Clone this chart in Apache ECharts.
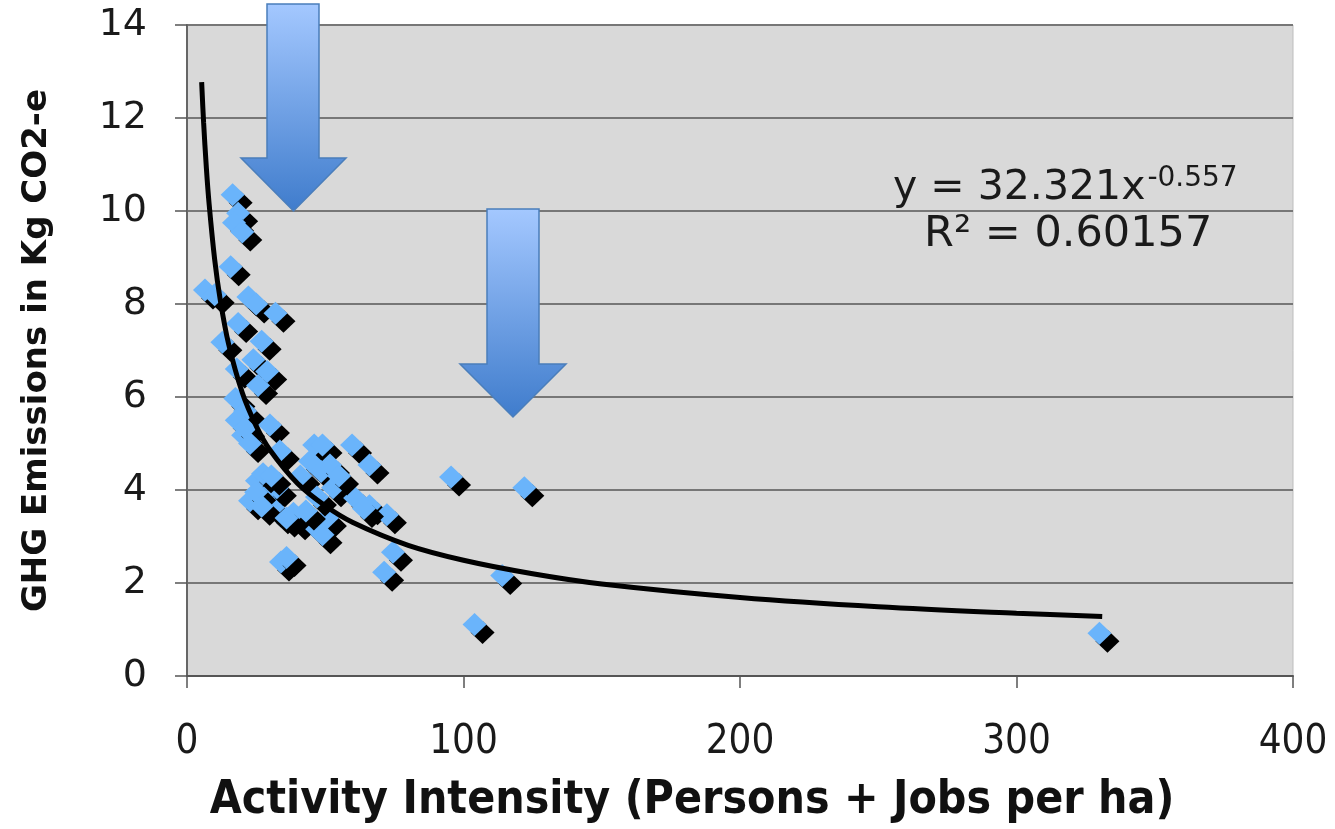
<!DOCTYPE html>
<html>
<head>
<meta charset="utf-8">
<script src="https://cdn.jsdelivr.net/npm/echarts@6/dist/echarts.min.js"></script>
<style>
html,body{margin:0;padding:0;background:#fff;}
#chart{width:1335px;height:829px;}
</style>
</head>
<body>
<div id="chart"></div>
<script>
// Observed points (Activity Intensity, GHG emissions)
var pointX = [16.5,18.5,17.0,20.0,15.8,6.5,10.0,22.2,25.0,32.0,18.5,12.8,27.0,24.0,29.0,18.0,25.7,17.5,21.0,18.0,30.0,20.3,21.0,22.8,33.6,46.0,44.5,48.5,25.3,22.8,29.0,32.5,33.6,39.8,31.0,45.5,34.0,36.0,59.7,66.0,49.0,51.7,52.8,60.8,66.0,72.3,50.6,49.0,74.5,71.3,95.5,122.0,114.0,104.0,330.0,27.5,38.5,41.0,55.0,47.0,64.0,25.0,27.0,30.5,36.0,43.0];
var pointY = [10.35,9.95,9.75,9.55,8.8,8.3,8.2,8.15,8.0,7.8,7.58,7.18,7.2,6.8,6.55,6.6,6.25,5.97,5.7,5.5,5.4,5.18,5.33,5.0,4.84,4.97,4.62,4.4,4.2,3.77,3.9,4.05,3.47,3.34,3.62,3.25,2.45,2.55,4.97,4.54,4.97,4.54,4.05,3.83,3.66,3.47,3.4,3.04,2.66,2.23,4.28,4.05,2.16,1.11,0.92,4.35,3.5,4.3,4.3,3.85,3.6,3.95,3.65,4.3,3.4,3.55];
// Trend line
var trendX = [5.3,6,7,8,10,12,15,20,25,30,40,50,60,80,100,125,150,200,250,300,331];
var trendY = [12.77,11.91,10.93,10.15,8.96,8.10,7.15,6.09,5.38,4.86,4.14,3.66,3.30,2.81,2.49,2.20,1.98,1.69,1.49,1.35,1.28];
var yTicks = [0,2,4,6,8,10,12,14];
var xTicks = [0,100,200,300,400];
var equationText = 'y = 32.321x';
var equationExp = '-0.557';
var r2Text = 'R² = 0.60157';
var xTitle = 'Activity Intensity (Persons + Jobs per ha)';
var yTitle = 'GHG Emissions in Kg CO2-e';

var scatterData = pointX.map(function(x,i){return [x, pointY[i]];});
var trendData = trendX.map(function(x,i){return [x, trendY[i]];});

var chart = echarts.init(document.getElementById('chart'));
function arrow(x1,x2,top,headY,hx1,hx2,tipY){
  var cx=(hx1+hx2)/2;
  return {type:'polygon',z:100,shape:{points:[[x1,top],[x2,top],[x2,headY],[hx2,headY],[cx,tipY],[hx1,headY],[x1,headY]]},
    style:{fill:new echarts.graphic.LinearGradient(0,0,0,1,[{offset:0,color:'#a4c8ff'},{offset:1,color:'#3f7ccc'}]),stroke:'#4a7ebb',lineWidth:1.5}};
}
var narrow = "'DejaVu Sans Condensed', sans-serif";
chart.setOption({
  backgroundColor:'#ffffff',
  animation:false,
  grid:{left:187,right:42,top:25,bottom:150,show:true,backgroundColor:'#d9d9d9',borderColor:'#bdbdbd',borderWidth:1},
  xAxis:{type:'value',min:0,max:400,interval:100,
    name:xTitle,nameLocation:'middle',nameGap:102,
    nameTextStyle:{fontFamily:narrow,fontWeight:'bold',fontSize:46,color:'#111',padding:[0,96,0,0]},
    axisLine:{show:true,onZero:false,lineStyle:{color:'#555',width:2}},
    axisTick:{show:true,length:12,lineStyle:{color:'#555',width:1.5}},
    axisLabel:{margin:47,fontFamily:narrow,fontSize:40,color:'#1a1a1a',
      formatter:function(v){return xTicks.indexOf(v)>=0?String(v):'';}},
    splitLine:{show:false}},
  yAxis:{type:'value',min:0,max:14,interval:2,
    name:yTitle,nameLocation:'middle',nameGap:133,nameRotate:90,
    nameTextStyle:{fontFamily:'DejaVu Sans',fontWeight:'bold',fontSize:34,color:'#111'},
    axisLine:{show:true,onZero:false,lineStyle:{color:'#666',width:2}},
    axisTick:{show:true,length:12,lineStyle:{color:'#555',width:1.5}},
    axisLabel:{margin:40,fontFamily:'DejaVu Sans',fontSize:38,color:'#1a1a1a',
      formatter:function(v){return yTicks.indexOf(v)>=0?String(v):'';}},
    splitLine:{show:true,lineStyle:{color:'#777',width:2}}},
  series:[
    {type:'scatter',data:scatterData,symbol:'diamond',symbolSize:[24,23],z:2,
      itemStyle:{color:'#6ab4fb',shadowColor:'#000',shadowBlur:0.5,shadowOffsetX:8,shadowOffsetY:8,opacity:1},
      emphasis:{disabled:true},silent:true},
    {type:'line',data:trendData,smooth:0.35,showSymbol:false,symbol:'none',z:5,
      lineStyle:{color:'#000',width:5},emphasis:{disabled:true},silent:true}
  ],
  graphic:[
    arrow(267,319,4,158,241,346,211),
    arrow(487,539,209,364,460,566,417),
    {type:'text',left:893,top:165,z:100,style:{text:'{m|'+equationText+'}{s|'+equationExp+'}',
      rich:{m:{fontFamily:'DejaVu Sans',fontSize:41,fill:'#1a1a1a',verticalAlign:'bottom'},
            s:{fontFamily:'DejaVu Sans',fontSize:28,fill:'#1a1a1a',verticalAlign:'top',padding:[0,0,16,2]}}}},
    {type:'text',left:924,top:213,z:100,style:{text:r2Text,fontFamily:'DejaVu Sans',fontSize:43,fill:'#1a1a1a'}}
  ]
});
</script>
</body>
</html>
